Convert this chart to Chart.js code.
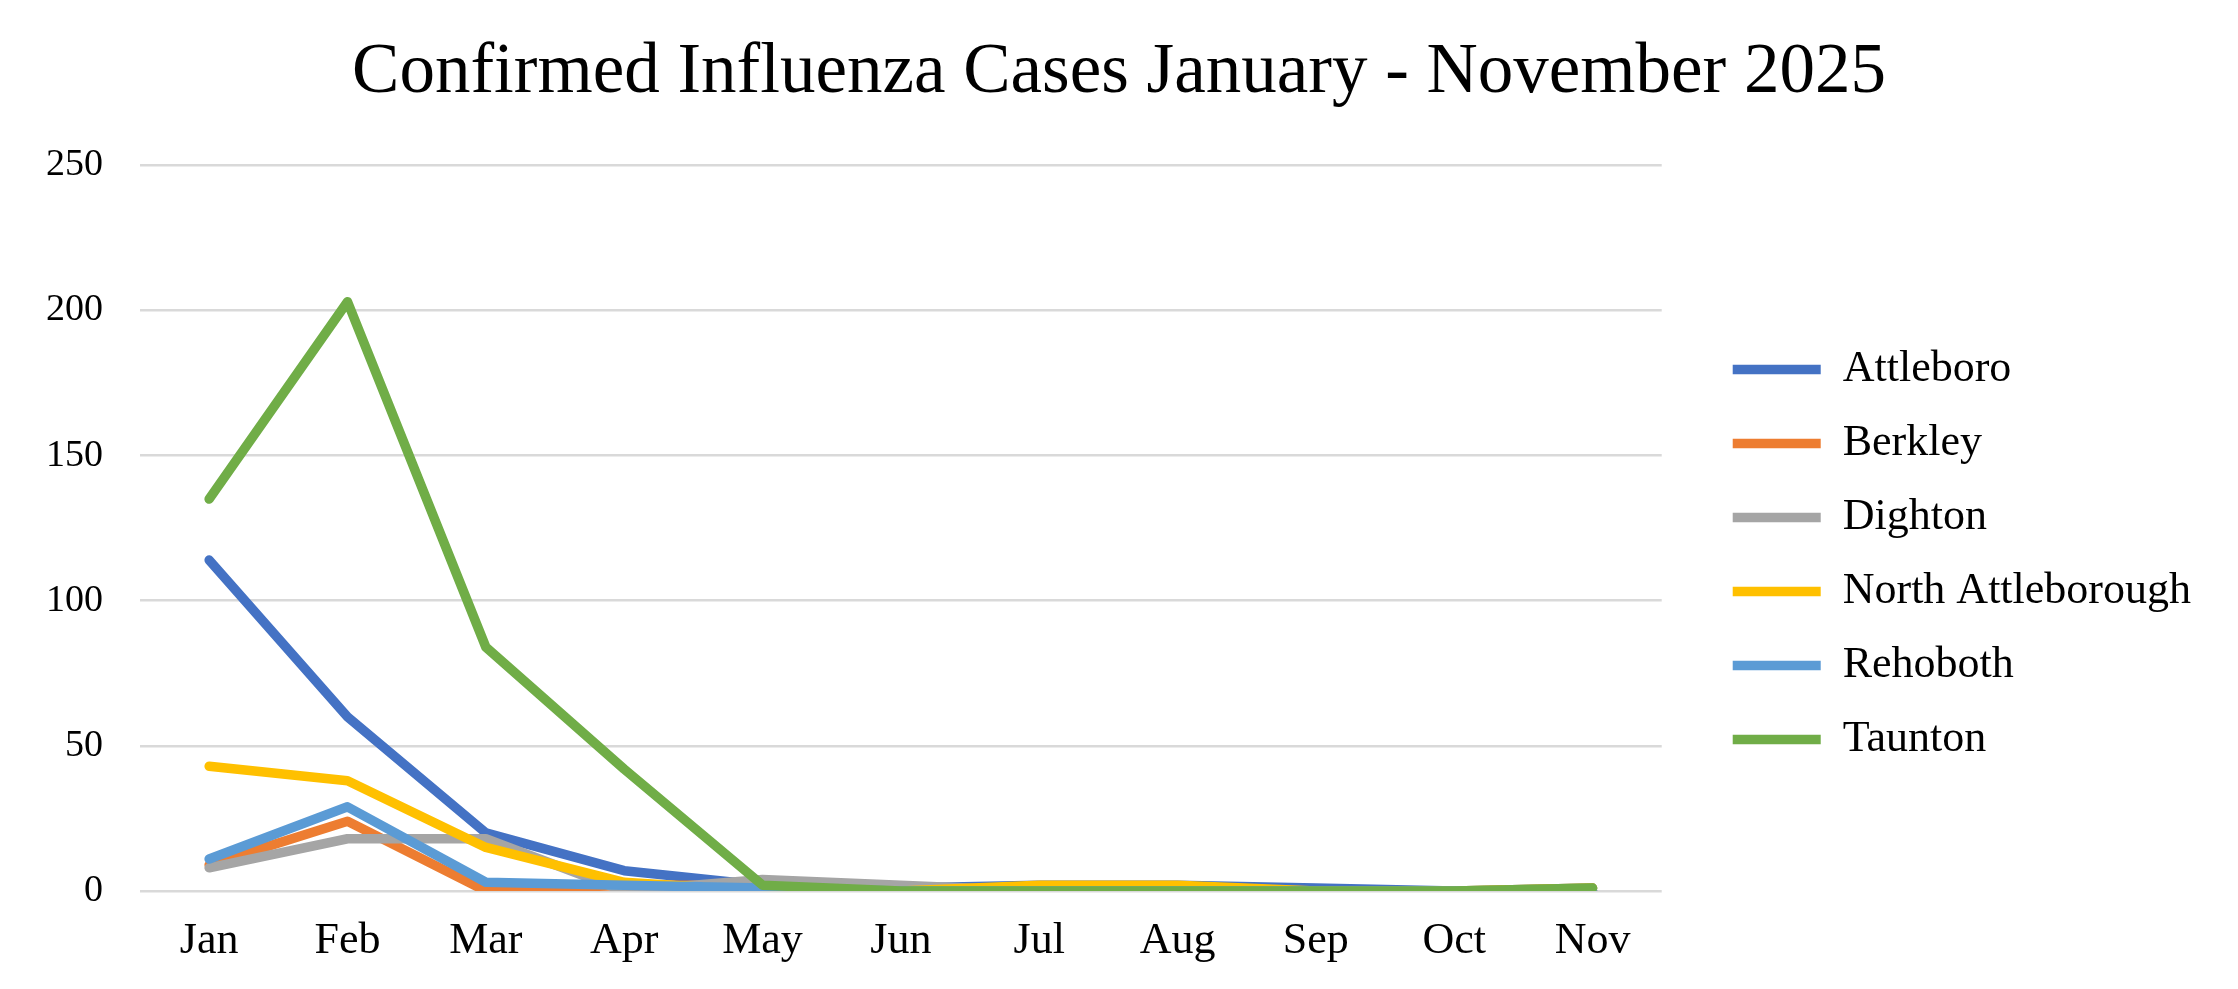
<!DOCTYPE html>
<html>
<head>
<meta charset="utf-8">
<title>Confirmed Influenza Cases</title>
<script src="https://cdn.jsdelivr.net/npm/chart.js@4"></script>
<style>
  body { margin: 0; background: #fff; }
  #wrap { width: 2238px; height: 989px; }
</style>
</head>
<body>
<div id="wrap"><canvas id="fluChart" width="2238" height="989"></canvas></div>
<script>
const months = ["Jan", "Feb", "Mar", "Apr", "May", "Jun", "Jul", "Aug", "Sep", "Oct", "Nov"];

const attleboro = [114, 60, 20, 7, 2, 1, 2, 2, 1, 0, 1];
const berkley = [9, 24, 0, 2, 2, 0, 0, 0, 0, 0, 0];
const dighton = [8, 18, 18, 0, 4, 2, 0, 0, 0, 0, 0];
const northAttleborough = [43, 38, 15, 3, 0, 0, 2, 2, 0, 0, 1];
const rehoboth = [11, 29, 3, 2, 1, 0, 0, 0, 0, 0, 0];
const taunton = [135, 203, 84, 42, 2, 0, 0, 0, 0, 0, 1];

const yTicks = [0, 50, 100, 150, 200, 250];

const towns = ["Attleboro", "Berkley", "Dighton", "North Attleborough", "Rehoboth", "Taunton"];
const townColors = ["#4472c4", "#ed7d31", "#a5a5a5", "#ffc000", "#5b9bd5", "#70ad47"];
const townValues = [attleboro, berkley, dighton, northAttleborough, rehoboth, taunton];

const serif = "'Liberation Serif', Georgia, serif";

// excel draws later series on top, chart.js wants lower order on top
const datasets = towns.map((name, i) => ({
  label: name,
  data: townValues[i],
  borderColor: townColors[i],
  backgroundColor: townColors[i],
  borderWidth: 9.5,
  borderCapStyle: "round",
  borderJoinStyle: "round",
  pointRadius: 0,
  pointHoverRadius: 0,
  tension: 0,
  fill: false,
  order: towns.length - i,
  pointStyle: "line"
}));

const ctx = document.getElementById("fluChart").getContext("2d");

const chart = new Chart(ctx, {
  type: "line",
  data: { labels: months, datasets: datasets },
  options: {
    responsive: false,
    animation: false,
    devicePixelRatio: 1,
    layout: { padding: { left: 37, right: 37, top: 0, bottom: 0 } },
    plugins: {
      title: {
        display: true,
        text: "Confirmed Influenza Cases January - November 2025",
        color: "#000",
        font: { family: serif, size: 71, weight: "normal" },
        padding: { top: 31, bottom: 49 }
      },
      legend: {
        position: "right",
        // empty title just pushes the entries a bit lower, like the original
        title: { display: true, text: " ", padding: { top: 54, bottom: 54 }, font: { size: 10 } },
        labels: {
          usePointStyle: true,
          pointStyleWidth: 88,
          boxHeight: 8,
          padding: 30,
          color: "#000",
          font: { family: serif, size: 44 },
          sort: (a, b) => a.datasetIndex - b.datasetIndex
        }
      },
      tooltip: { enabled: false }
    },
    scales: {
      x: {
        offset: true,
        grid: { display: false, drawTicks: false },
        border: { display: false },
        ticks: { color: "#000", padding: 24, font: { family: serif, size: 44 } },
        afterFit: (scale) => { scale.height = 98; }
      },
      y: {
        min: yTicks[0],
        max: yTicks[yTicks.length - 1],
        ticks: { stepSize: yTicks[1] - yTicks[0], color: "#000", padding: 37, font: { family: serif, size: 38 } },
        grid: { color: "#d9d9d9", lineWidth: 2.5, drawTicks: false },
        border: { display: false },
        afterFit: (scale) => { scale.width = 103; }
      },
      // hidden axis, only keeps the gap between plot and legend
      gap: {
        type: "linear",
        position: "right",
        display: false,
        afterFit: (scale) => { scale.width = 41; }
      }
    }
  }
});
</script>
</body>
</html>
